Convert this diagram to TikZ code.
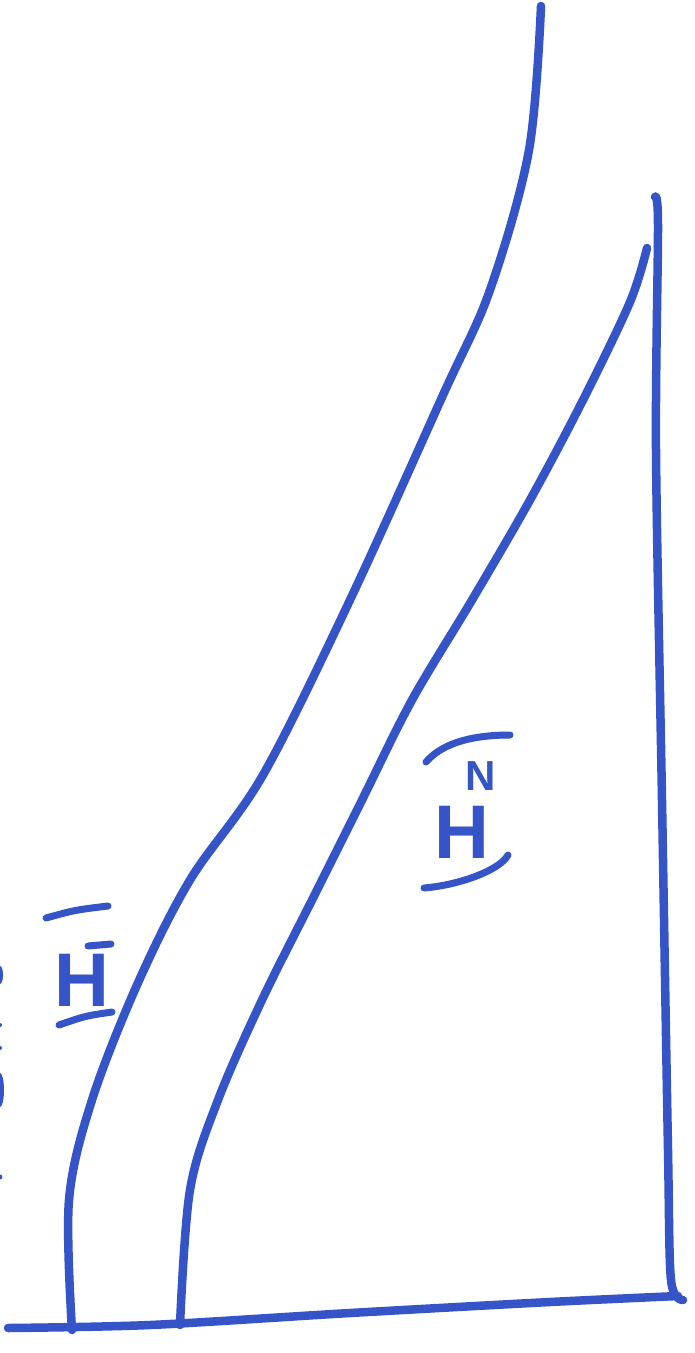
\documentclass[tikz,border=0pt]{standalone}
\usepackage{fontspec}
\setmainfont{Liberation Sans}
\definecolor{ink}{RGB}{52,84,200}
\begin{document}
\begin{tikzpicture}[x=1pt,y=-1pt,
  pen/.style={draw=ink,line width=8.5pt,line cap=round,line join=round},
  thin pen/.style={draw=ink,line width=7pt,line cap=round},
  lbl/.style={text=ink,inner sep=0pt,font=\fontsize{76}{76}\selectfont\bfseries}]
\useasboundingbox (0,0) rectangle (694,1353);
\fill[white] (0,0) rectangle (694,1353);
% left long curve
\draw[pen] plot[smooth,tension=0.55] coordinates {(541,6) (529,150) (490,290) (443,395) (350,600) (263,775) (190,880) (137,985) (92,1100) (69,1200) (72,1330)};
% middle curve
\draw[pen] plot[smooth,tension=0.55] coordinates {(647,248) (630,302) (583,400) (530,500) (472,600) (412,700) (362,800) (312,900) (262,1000) (218,1100) (190,1190) (180,1325)};
% right vertical
\draw[pen] plot[smooth,tension=0.5] coordinates {(655,197) (658,225) (656,450) (662,800) (668,1150) (671,1280) (683,1300)};
% bottom line
\draw[pen] plot[smooth,tension=0.5] coordinates {(8,1328) (150,1325) (350,1313) (550,1302) (678,1296)};
% label 1
\node[lbl] (h1) at (82,980) {H};
\draw[thin pen] (46,918) .. controls (75,910) .. (108,906);
\draw[thin pen] (88,946) -- (111,944);
\draw[thin pen] (59,1025) .. controls (85,1016) .. (112,1012);
% label 2
\node[lbl] (h2) at (462,832) {H};
\node[text=ink,inner sep=0pt,font=\fontsize{42}{42}\selectfont\bfseries] (n2) at (481,776) {N};
\draw[thin pen] (426,762) .. controls (445,740) and (480,735) .. (510,735);
\draw[thin pen] (424,888) .. controls (460,885) and (500,870) .. (508,855);
% cut-off fragments at left edge
\fill[ink] (0,975) ellipse (3 and 9);
\fill[ink] (0,1025) circle (2);
\fill[ink] (0,1048) circle (2);
\fill[ink] (0,1090) ellipse (4 and 17);
\fill[ink] (0,1177) circle (2.5);
\end{tikzpicture}
\end{document}
